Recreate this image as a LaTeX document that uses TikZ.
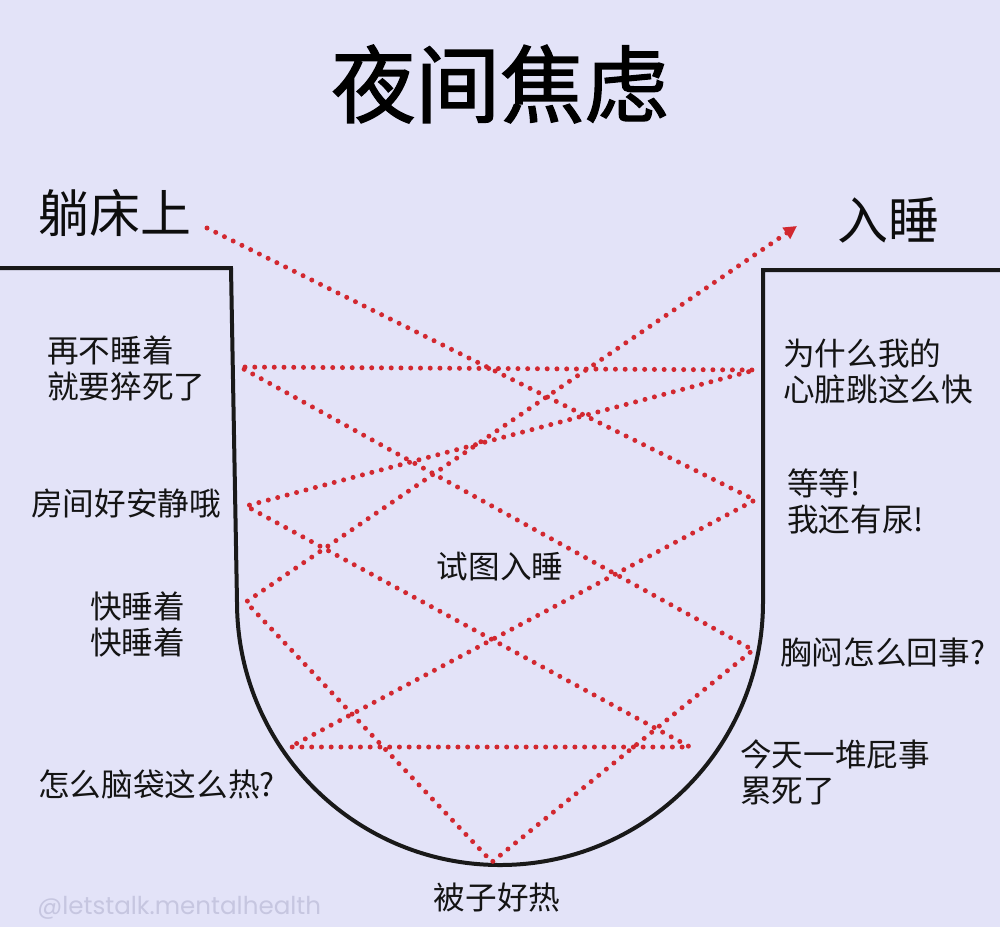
\documentclass[tikz,border=0pt]{standalone}
\usepackage{fontspec}
\setmainfont{Noto Sans CJK SC}
\newfontfamily\markfont{Poppins}
\usetikzlibrary{arrows.meta}
\definecolor{paper}{RGB}{227,227,248}
\definecolor{dotred}{RGB}{210,40,48}
\definecolor{markgrey}{RGB}{198,198,224}
\tikzset{
  say/.style={font=\fontsize{18}{20.5}\selectfont, inner sep=0pt, align=left, text=black!92},
  big/.style={font=\fontsize{29}{29}\selectfont, inner sep=0pt, text=black!95},
  worry/.style={line width=1mm, color=dotred, line cap=round, dash pattern=on 0pt off 1.95mm},
}

\begin{document}
\begin{tikzpicture}[x=0.02cm, y=-0.02cm]
		%%%%% START %%%%%
		
		\fill[paper] (0, 0) rectangle (1000, 927);
		\useasboundingbox (0, 0) rectangle (1000, 927);
		
		\node[font=\fontsize{48}{48}\selectfont\addfontfeature{FakeBold=1.6}, inner sep=0pt] (title) at (500, 84) {夜间焦虑};
		\node[big] (bed) at (115, 213) {躺床上};
		\node[big] (sleep) at (888, 220) {入睡};
		
		% the pit
		\draw[line width=0.8mm, color=black!90] (0, 268) -- (231, 268) -- (237, 602) arc (180:0:263) -- (763, 270) -- (1000, 270);
		
		% bounce points
		\coordinate (p0) at (207, 228);
		\coordinate (p1) at (755, 500);
		\coordinate (p2) at (290, 747);
		\coordinate (p3) at (690, 747);
		\coordinate (p4) at (246, 506);
		\coordinate (p5) at (755, 370);
		\coordinate (p6) at (240, 367);
		\coordinate (p7) at (753, 650);
		\coordinate (p8) at (492, 862);
		\coordinate (p9) at (246, 602);
		\coordinate (p10) at (797, 226);
		
		\draw[worry, -{Triangle[length=2.6mm, width=2.6mm]}] (p0) -- (p1) -- (p2) -- (p3) -- (p4) -- (p5) -- (p6) -- (p7) -- (p8) -- (p9) -- (p10);
		
		\node[say, anchor=west] (dead) at (47, 368) {再不睡着\\就要猝死了};
		\node[say, anchor=west] (quiet) at (31, 503) {房间好安静哦};
		\node[say, anchor=west] (hurry) at (90, 624) {快睡着\\快睡着};
		\node[say, anchor=west] (hot) at (38, 784) {怎么脑袋这么热?};
		
		\node[say, anchor=west] (heart) at (783, 371) {为什么我的\\心脏跳这么快};
		\node[say, anchor=west] (pee) at (787, 501) {等等!\\我还有尿!};
		\node[say, anchor=west] (chest) at (780, 652) {胸闷怎么回事?};
		\node[say, anchor=west] (tired) at (740, 772) {今天一堆屁事\\累死了};
		
		\node[say] (try) at (500, 567) {试图入睡};
		\node[say] (quilt) at (497, 898) {被子好热};
		
		\node[font=\markfont\fontsize{14}{14}\selectfont, text=markgrey, inner sep=0pt, anchor=west] (mark) at (37, 908) {@letstalk.mentalhealth};
		
		%%%%% END %%%%%
	\end{tikzpicture}
\end{document}
